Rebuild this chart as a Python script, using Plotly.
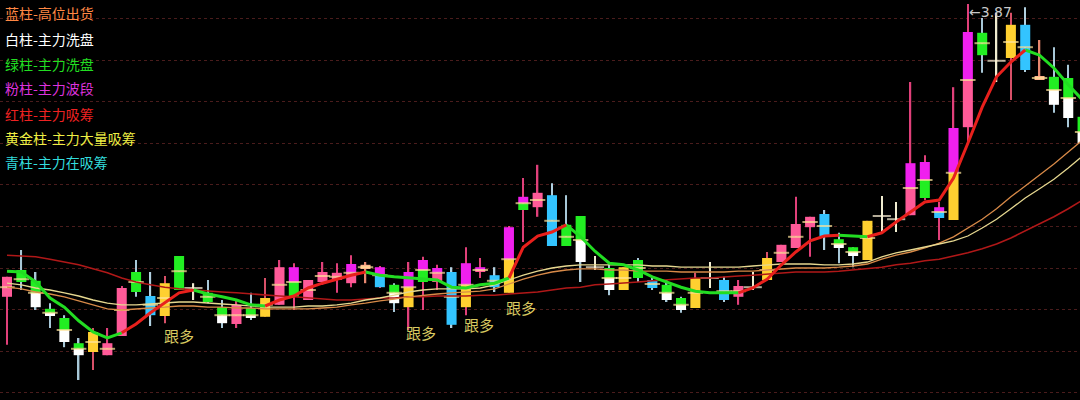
import plotly.graph_objects as go

# ---- candle data (price units) ----
high = [3.188, 3.255, 3.200, 3.122, 3.092, 3.035, 3.060, 3.060, 3.165, 3.230,
        3.200, 3.190, 3.240, 3.172, 3.180, 3.130, 3.130, 3.148, 3.185, 3.230,
        3.222, 3.180, 3.225, 3.222, 3.242, 3.225, 3.215, 3.172, 3.225, 3.238,
        3.218, 3.212, 3.262, 3.235, 3.212, 3.315, 3.435, 3.468, 3.422, 3.392,
        3.340, 3.240, 3.222, 3.212, 3.235, 3.188, 3.180, 3.138, 3.198, 3.225,
        3.188, 3.180, 3.200, 3.250, 3.268, 3.388, 3.338, 3.355, 3.298, 3.262,
        3.328, 3.390, 3.375, 3.675, 3.492, 3.375, 3.662, 3.870, 3.835, 3.848,
        3.848, 3.862, 3.780, 3.762, 3.718, 3.605]
top = [3.188, 3.205, 3.178, 3.108, 3.085, 3.022, 3.050, 3.022, 3.160, 3.200,
       3.140, 3.172, 3.240, 3.160, 3.148, 3.112, 3.118, 3.110, 3.135, 3.212,
       3.212, 3.180, 3.200, 3.198, 3.220, 3.218, 3.212, 3.168, 3.200, 3.230,
       3.210, 3.200, 3.222, 3.212, 3.192, 3.312, 3.388, 3.398, 3.392, 3.318,
       3.340, 3.212, 3.210, 3.212, 3.230, 3.180, 3.168, 3.135, 3.185, 3.185,
       3.180, 3.165, 3.162, 3.235, 3.268, 3.320, 3.338, 3.345, 3.282, 3.262,
       3.328, 3.340, 3.332, 3.472, 3.475, 3.362, 3.560, 3.800, 3.798, 3.728,
       3.818, 3.818, 3.688, 3.688, 3.685, 3.588]
mid = [3.162, 3.182, 3.148, 3.098, 3.055, 3.008, 3.025, 3.008, 3.105, 3.175,
       3.118, 3.135, 3.202, 3.160, 3.138, 3.092, 3.092, 3.092, 3.118, 3.168,
       3.175, 3.155, 3.190, 3.188, 3.198, 3.212, 3.192, 3.148, 3.162, 3.205,
       3.198, 3.138, 3.168, 3.205, 3.178, 3.232, 3.372, 3.380, 3.328, 3.288,
       3.280, 3.212, 3.185, 3.185, 3.210, 3.170, 3.148, 3.118, 3.148, 3.185,
       3.152, 3.152, 3.162, 3.205, 3.248, 3.288, 3.325, 3.315, 3.270, 3.250,
       3.285, 3.340, 3.332, 3.410, 3.430, 3.350, 3.448, 3.680, 3.772, 3.728,
       3.775, 3.762, 3.685, 3.655, 3.635, 3.550]
bottom = [3.138, 3.175, 3.112, 3.090, 3.025, 2.992, 3.000, 2.992, 3.040, 3.150,
          3.092, 3.090, 3.155, 3.160, 3.125, 3.072, 3.070, 3.085, 3.088, 3.118,
          3.138, 3.130, 3.175, 3.180, 3.172, 3.208, 3.162, 3.122, 3.112, 3.175,
          3.175, 3.068, 3.112, 3.200, 3.162, 3.148, 3.355, 3.362, 3.265, 3.265,
          3.225, 3.212, 3.155, 3.155, 3.185, 3.160, 3.130, 3.105, 3.110, 3.185,
          3.130, 3.138, 3.162, 3.180, 3.225, 3.260, 3.312, 3.288, 3.260, 3.240,
          3.230, 3.340, 3.332, 3.342, 3.385, 3.335, 3.330, 3.562, 3.742, 3.728,
          3.735, 3.705, 3.682, 3.618, 3.585, 3.522]
low = [3.018, 3.155, 3.105, 3.060, 3.012, 2.930, 2.955, 2.992, 3.040, 3.138,
       3.065, 3.072, 3.155, 3.130, 3.122, 3.060, 3.060, 3.080, 3.088, 3.118,
       3.105, 3.130, 3.168, 3.148, 3.162, 3.172, 3.160, 3.100, 3.055, 3.105,
       3.155, 3.060, 3.092, 3.185, 3.150, 3.148, 3.275, 3.338, 3.265, 3.265,
       3.175, 3.205, 3.142, 3.155, 3.175, 3.155, 3.125, 3.098, 3.110, 3.160,
       3.125, 3.118, 3.155, 3.180, 3.225, 3.260, 3.238, 3.255, 3.222, 3.212,
       3.230, 3.298, 3.300, 3.342, 3.380, 3.280, 3.330, 3.522, 3.698, 3.675,
       3.630, 3.700, 3.682, 3.598, 3.562, 3.505]
# body colour type of upper / lower part of each candle
upper_type = list("PGGGGGYPPGCYGXGGPGYPMPPPMQMGMMMCMMCMMPCGGXGYGCGGYXCPXYPPPCGGYXXMMMMMGXYCQGGG")
lower_type = list("PGWWWWYPPGCYGXGWPWYPGPPPPQCWYGPCYPCYGPCGWXWYGCWWYXCPXYPPPCWWYXXPGCYPGXYCQWWW")

# ---- moving averages ----
ma5 = [3.202, 3.200, 3.175, 3.135, 3.112, 3.078, 3.050, 3.035, 3.048, 3.070,
       3.098, 3.122, 3.148, 3.155, 3.145, 3.138, 3.130, 3.118, 3.115, 3.130,
       3.140, 3.160, 3.172, 3.182, 3.192, 3.200, 3.192, 3.188, 3.185, 3.182,
       3.180, 3.162, 3.160, 3.168, 3.172, 3.185, 3.262, 3.290, 3.300, 3.318,
       3.288, 3.252, 3.222, 3.218, 3.205, 3.188, 3.175, 3.162, 3.152, 3.148,
       3.148, 3.148, 3.160, 3.182, 3.218, 3.250, 3.278, 3.290, 3.292, 3.290,
       3.288, 3.298, 3.325, 3.350, 3.375, 3.380, 3.435, 3.522, 3.612, 3.688,
       3.725, 3.755, 3.742, 3.710, 3.668, 3.630]
ma5_trend = list("ggggggggg" "rrrrr" "ggggg" "rrrrrrr" "gggggggggg" "rrrr"
                 "gggggggggggg" "rrrrrrr" "gg" "rrrrrrrrrrr" "gggg")
ma10 = [3.172, 3.168, 3.160, 3.155, 3.148, 3.140, 3.130, 3.122, 3.118, 3.118,
        3.120, 3.122, 3.125, 3.125, 3.122, 3.120, 3.118, 3.115, 3.112, 3.112,
        3.112, 3.115, 3.115, 3.118, 3.122, 3.130, 3.135, 3.142, 3.150, 3.155,
        3.158, 3.158, 3.158, 3.160, 3.168, 3.180, 3.192, 3.202, 3.210, 3.215,
        3.218, 3.218, 3.218, 3.218, 3.218, 3.215, 3.215, 3.212, 3.212, 3.212,
        3.212, 3.212, 3.215, 3.218, 3.220, 3.220, 3.220, 3.218, 3.218, 3.220,
        3.225, 3.238, 3.248, 3.255, 3.262, 3.270, 3.278, 3.290, 3.310, 3.332,
        3.358, 3.385, 3.408, 3.432, 3.460, 3.490]
ma20 = [3.162, 3.158, 3.150, 3.145, 3.138, 3.128, 3.118, 3.108, 3.105, 3.108,
        3.110, 3.112, 3.115, 3.115, 3.112, 3.112, 3.110, 3.110, 3.108, 3.108,
        3.108, 3.108, 3.110, 3.112, 3.118, 3.122, 3.128, 3.132, 3.138, 3.142,
        3.145, 3.148, 3.150, 3.152, 3.158, 3.170, 3.182, 3.192, 3.200, 3.205,
        3.208, 3.208, 3.205, 3.205, 3.202, 3.202, 3.202, 3.200, 3.200, 3.200,
        3.200, 3.202, 3.202, 3.205, 3.208, 3.210, 3.210, 3.210, 3.212, 3.215,
        3.220, 3.232, 3.242, 3.250, 3.260, 3.272, 3.288, 3.310, 3.332, 3.358,
        3.388, 3.415, 3.442, 3.470, 3.500, 3.530]
ma60 = [3.242, 3.240, 3.238, 3.232, 3.225, 3.218, 3.208, 3.198, 3.185, 3.175,
        3.168, 3.162, 3.158, 3.155, 3.152, 3.150, 3.148, 3.145, 3.142, 3.140,
        3.138, 3.135, 3.132, 3.130, 3.130, 3.132, 3.135, 3.135, 3.138, 3.138,
        3.140, 3.140, 3.140, 3.142, 3.142, 3.145, 3.148, 3.150, 3.155, 3.160,
        3.162, 3.168, 3.170, 3.172, 3.175, 3.178, 3.180, 3.182, 3.185, 3.185,
        3.188, 3.190, 3.192, 3.195, 3.198, 3.200, 3.200, 3.200, 3.202, 3.205,
        3.208, 3.212, 3.218, 3.222, 3.228, 3.232, 3.240, 3.248, 3.258, 3.270,
        3.285, 3.302, 3.320, 3.338, 3.358, 3.380]

grid_prices = [3.834, 3.730, 3.626, 3.522, 3.418, 3.314, 3.210, 3.106, 3.002, 2.898]
max_label = "←3.87"
max_index = 67
signal_text = "跟多"
signal_x = [12.0, 28.9, 32.9, 35.85]
signal_y = [3.042, 3.048, 3.068, 3.112]
legend_items = ["蓝柱-高位出货", "白柱-主力洗盘", "绿柱-主力洗盘", "粉柱-主力波段",
                "红柱-主力吸筹", "黄金柱-主力大量吸筹", "青柱-主力在吸筹"]

# ---- styles ----
body_color = {"M": "#f020ee", "P": "#ff5a98", "G": "#22ee22", "W": "#ffffff",
              "C": "#33c4ff", "Y": "#ffd030", "Q": "#ffb48c", "X": "#f0ecd0"}
wick_color = {"M": "#e0407a", "P": "#e0407a", "G": "#a8c8d8", "W": "#a8c8d8",
              "C": "#b0d0e0", "Y": "#d85068", "Q": "#e88870", "X": "#f0ecd0"}
legend_colors = ["#ff8844", "#ffffff", "#22dd22", "#dd33dd", "#ee2222", "#eeee44", "#33dddd"]
legend_ypx = [13, 39, 64, 88, 114, 138, 162]

n = len(high)
xs = list(range(n))
fig = go.Figure()

# wicks
fig.add_trace(go.Bar(x=xs, y=[h - l for h, l in zip(high, low)], base=low, width=0.1,
                     marker=dict(color=[wick_color[t] for t in upper_type], line=dict(width=0)),
                     hoverinfo="skip"))
# lower body part
fig.add_trace(go.Bar(x=xs, y=[m - b for m, b in zip(mid, bottom)], base=bottom, width=0.7,
                     marker=dict(color=[body_color[t] for t in lower_type], line=dict(width=0)),
                     hoverinfo="skip"))
# upper body part
fig.add_trace(go.Bar(x=xs, y=[t - m for t, m in zip(top, mid)], base=mid, width=0.7,
                     marker=dict(color=[body_color[t] for t in upper_type], line=dict(width=0)),
                     hoverinfo="skip"))
# split / cross line
fig.add_trace(go.Scatter(x=xs, y=mid, mode="markers",
                         marker=dict(symbol="line-ew", size=[13 if t == "X" else 11 for t in upper_type],
                                     line=dict(width=2, color=["#fff4d8" if t == "X" else "#ffe49a" for t in upper_type])),
                         hoverinfo="skip"))

# thin moving averages
fig.add_trace(go.Scatter(x=xs, y=ma60, mode="lines", line=dict(color="#b01818", width=1.6), hoverinfo="skip"))
fig.add_trace(go.Scatter(x=xs, y=ma20, mode="lines", line=dict(color="#d88a48", width=1.3), hoverinfo="skip"))
fig.add_trace(go.Scatter(x=xs, y=ma10, mode="lines", line=dict(color="#e6d890", width=1.3), hoverinfo="skip"))


def runs(flag):
    rx, ry = [], []
    for i in range(1, n):
        if ma5_trend[i] == flag:
            if not rx or rx[-1] != i - 1:
                if rx:
                    rx.append(None); ry.append(None)
                rx.append(i - 1); ry.append(ma5[i - 1])
            rx.append(i); ry.append(ma5[i])
    return rx, ry


for flag, col in (("g", "#22dd22"), ("r", "#e8201c")):
    rx, ry = runs(flag)
    fig.add_trace(go.Scatter(x=rx, y=ry, mode="lines", line=dict(color=col, width=3),
                             connectgaps=False, hoverinfo="skip"))

annotations = []
for txt, col, ypx in zip(legend_items, legend_colors, legend_ypx):
    annotations.append(dict(x=3 / 1080, y=1 - ypx / 400, xref="paper", yref="paper", text=txt,
                            showarrow=False, xanchor="left", yanchor="middle",
                            font=dict(family="Noto Sans CJK SC", size=14, color=col)))
for sx, sy in zip(signal_x, signal_y):
    annotations.append(dict(x=sx, y=sy, xref="x", yref="y", text=signal_text, showarrow=False,
                            xanchor="center", yanchor="middle",
                            font=dict(family="Noto Sans CJK SC", size=15, color="#d8c860")))
annotations.append(dict(x=max_index, y=high[max_index], xref="x", yref="y", text=max_label,
                        showarrow=False, xanchor="left", yanchor="top", yshift=2, xshift=-1,
                        font=dict(family="DejaVu Sans", size=14, color="#c8c8c8")))

fig.update_layout(
    width=1080, height=400, margin=dict(l=0, r=0, t=0, b=0),
    paper_bgcolor="black", plot_bgcolor="black", showlegend=False,
    barmode="overlay", annotations=annotations,
    xaxis=dict(range=[-0.488, 74.82], visible=False, fixedrange=True),
    yaxis=dict(range=[2.88, 3.88], tickvals=grid_prices, showticklabels=False,
               showgrid=True, gridcolor="#4a1c1c", griddash="dot", gridwidth=1,
               zeroline=False, showline=False, fixedrange=True),
)

fig.write_html("out.html", config={"displayModeBar": False},
               post_script="document.body.style.margin='0';document.body.style.background='black';"
                           "document.documentElement.style.overflow='hidden';")
